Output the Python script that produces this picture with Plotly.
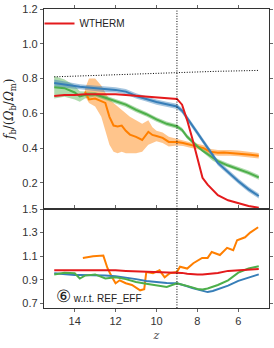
import plotly.graph_objects as go

# ---------------- data ----------------
z_top = [15.0, 14.5, 14.0, 13.75, 13.5, 13.0, 12.5, 12.0, 11.5, 11.0, 10.5, 10.0, 9.5, 9.0,
         8.75, 8.5, 8.25, 8.0, 7.75, 7.5, 7.25, 7.0, 6.5, 6.0, 5.5, 5.0]

fb_red = [0.700, 0.705, 0.705, 0.708, 0.710, 0.710, 0.710, 0.710, 0.705, 0.700, 0.695, 0.690, 0.687, 0.683,
          0.650, 0.560, 0.455, 0.345, 0.230, 0.190, 0.160, 0.130, 0.100, 0.082, 0.068, 0.057]
fb_blue = [0.775, 0.765, 0.757, 0.753, 0.750, 0.745, 0.737, 0.735, 0.725, 0.700, 0.683, 0.665, 0.652, 0.640,
           0.615, 0.575, 0.530, 0.488, 0.445, 0.405, 0.360, 0.315, 0.260, 0.210, 0.163, 0.125]
fb_green = [0.750, 0.745, 0.720, 0.697, 0.705, 0.710, 0.690, 0.670, 0.650, 0.620, 0.595, 0.565, 0.540, 0.525,
            0.505, 0.465, 0.435, 0.410, 0.385, 0.365, 0.340, 0.325, 0.300, 0.280, 0.258, 0.232]
err_green = [0.065, 0.050, 0.040, 0.030, 0.020, 0.013, 0.013, 0.013, 0.013, 0.013, 0.013, 0.013, 0.013, 0.013,
             0.013, 0.013, 0.013, 0.013, 0.013, 0.013, 0.013, 0.013, 0.013, 0.013, 0.013, 0.013]
err_blue = [0.020, 0.018, 0.016, 0.015, 0.015, 0.015, 0.015, 0.015, 0.015, 0.015, 0.015, 0.015, 0.015, 0.015,
            0.015, 0.015, 0.015, 0.015, 0.015, 0.015, 0.015, 0.015, 0.015, 0.015, 0.015, 0.015]
fb_dotted = [0.810, 0.812, 0.815, 0.817, 0.818, 0.820, 0.823, 0.825, 0.828, 0.830, 0.832, 0.834, 0.836, 0.837,
             0.838, 0.838, 0.839, 0.840, 0.840, 0.841, 0.842, 0.842, 0.843, 0.844, 0.846, 0.847]

z_orange = [13.5, 13.3, 13.0, 12.7, 12.5, 12.3, 12.1, 11.9, 11.7, 11.5, 11.3, 11.0, 10.7, 10.4, 10.2, 10.0,
            9.7, 9.4, 9.0, 8.7, 8.4, 8.2, 8.0, 7.7, 7.4, 7.0, 6.7, 6.4, 6.0, 5.7, 5.4, 5.0]
fb_orange = [0.725, 0.680, 0.685, 0.670, 0.660, 0.580, 0.530, 0.525, 0.530, 0.500, 0.478, 0.465, 0.447, 0.494,
             0.476, 0.470, 0.459, 0.436, 0.436, 0.430, 0.420, 0.413, 0.410, 0.400, 0.380, 0.373, 0.375, 0.373,
             0.370, 0.367, 0.362, 0.356]
orange_hi = [0.740, 0.800, 0.800, 0.760, 0.720, 0.680, 0.660, 0.640, 0.620, 0.600, 0.580, 0.560, 0.540, 0.560,
             0.520, 0.500, 0.490, 0.465, 0.455, 0.447, 0.436, 0.429, 0.426, 0.416, 0.396, 0.389, 0.391, 0.389,
             0.386, 0.383, 0.378, 0.372]
orange_lo = [0.700, 0.660, 0.640, 0.580, 0.500, 0.420, 0.380, 0.370, 0.380, 0.370, 0.370, 0.370, 0.380, 0.420,
             0.430, 0.440, 0.430, 0.410, 0.415, 0.413, 0.404, 0.397, 0.394, 0.384, 0.364, 0.357, 0.359, 0.357,
             0.354, 0.351, 0.346, 0.340]

ratio_red = [0.980, 0.980, 0.980, 0.980, 0.980, 0.982, 0.982, 0.980, 0.975, 0.972, 0.970, 0.970, 0.968, 0.965,
             0.958, 0.950, 0.946, 0.945, 0.945, 0.948, 0.952, 0.958, 0.975, 0.980, 0.985, 0.990]
ratio_blue = [0.955, 0.945, 0.940, 0.940, 0.940, 0.935, 0.935, 0.930, 0.920, 0.905, 0.890, 0.880, 0.872, 0.870,
              0.860, 0.845, 0.830, 0.820, 0.805, 0.795, 0.805, 0.820, 0.850, 0.890, 0.920, 0.945]
ratio_green = [0.945, 0.960, 0.955, 0.910, 0.935, 0.945, 0.910, 0.920, 0.905, 0.880, 0.865, 0.850, 0.838, 0.870,
               0.860, 0.850, 0.835, 0.822, 0.818, 0.825, 0.840, 0.855, 0.895, 0.960, 0.995, 1.015]

z_orange_r = [13.6, 13.1, 12.6, 12.4, 12.2, 12.0, 11.8, 11.5, 11.2, 10.8, 10.6, 10.5, 10.17, 9.85, 9.6, 9.35,
              9.0, 8.85, 8.5, 8.2, 7.77, 7.5, 7.3, 6.9, 6.55, 6.25, 6.06, 5.67, 5.42, 5.03]
ratio_orange = [1.085, 1.100, 1.105, 1.000, 0.930, 0.870, 0.895, 0.870, 0.855, 0.810, 0.820, 0.965, 0.955, 0.980,
                0.920, 0.955, 0.965, 1.010, 0.995, 1.040, 1.085, 1.085, 1.135, 1.110, 1.170, 1.150, 1.235, 1.260,
                1.300, 1.345]

z_mark = 9.0
top_ticks = [0.2, 0.4, 0.6, 0.8, 1.0, 1.2]
bot_ticks = [0.7, 0.9, 1.1, 1.3, 1.5]
x_ticks = [14, 12, 10, 8, 6]

RED = "#e41a1c"
BLUE = "#377eb8"
GREEN = "#4daf4a"
ORANGE = "#ff7f00"

fig = go.Figure()

def band(x, lo, hi, color, xa, ya):
    fig.add_trace(go.Scatter(x=list(x) + list(x)[::-1], y=list(hi) + list(lo)[::-1],
                             fill="toself", fillcolor=color, line=dict(width=0),
                             hoverinfo="skip", showlegend=False, xaxis=xa, yaxis=ya))

# top bands
band(z_orange, orange_lo, orange_hi, "rgba(255,127,0,0.45)", "x", "y")
band(z_top, [a - e for a, e in zip(fb_green, err_green)], [a + e for a, e in zip(fb_green, err_green)],
     "rgba(77,175,74,0.45)", "x", "y")
band(z_top, [a - e for a, e in zip(fb_blue, err_blue)], [a + e for a, e in zip(fb_blue, err_blue)],
     "rgba(55,126,184,0.45)", "x", "y")

DOT = "1px,1.6px"
# top lines
fig.add_trace(go.Scatter(x=z_top, y=fb_dotted, mode="lines", line=dict(color="black", width=1, dash=DOT),
                         showlegend=False, xaxis="x", yaxis="y"))
fig.add_trace(go.Scatter(x=z_orange, y=fb_orange, mode="lines", line=dict(color=ORANGE, width=2),
                         showlegend=False, xaxis="x", yaxis="y"))
fig.add_trace(go.Scatter(x=z_top, y=fb_green, mode="lines", line=dict(color=GREEN, width=2),
                         showlegend=False, xaxis="x", yaxis="y"))
fig.add_trace(go.Scatter(x=z_top, y=fb_blue, mode="lines", line=dict(color=BLUE, width=2),
                         showlegend=False, xaxis="x", yaxis="y"))
fig.add_trace(go.Scatter(x=z_top, y=fb_red, mode="lines", line=dict(color=RED, width=2),
                         name="WTHERM", showlegend=True, xaxis="x", yaxis="y"))

# bottom lines
fig.add_trace(go.Scatter(x=z_orange_r, y=ratio_orange, mode="lines", line=dict(color=ORANGE, width=2),
                         showlegend=False, xaxis="x2", yaxis="y2"))
fig.add_trace(go.Scatter(x=z_top, y=ratio_blue, mode="lines", line=dict(color=BLUE, width=2),
                         showlegend=False, xaxis="x2", yaxis="y2"))
fig.add_trace(go.Scatter(x=z_top, y=ratio_green, mode="lines", line=dict(color=GREEN, width=2),
                         showlegend=False, xaxis="x2", yaxis="y2"))
fig.add_trace(go.Scatter(x=z_top, y=ratio_red, mode="lines", line=dict(color=RED, width=2),
                         showlegend=False, xaxis="x2", yaxis="y2"))

# vertical dotted marker line
fig.add_shape(type="line", x0=z_mark, x1=z_mark, xref="x", y0=0, y1=1, yref="paper",
              line=dict(color="black", width=1, dash=DOT))

AX = "#333333"
TICKFONT = dict(family="Liberation Sans, Arial, sans-serif", size=11, color="#333333")
axis_common = dict(showline=True, linecolor=AX, linewidth=1.3, ticks="outside", ticklen=3,
                   tickcolor="#666666", tickwidth=1, showgrid=False, zeroline=False, tickfont=TICKFONT,
                   automargin=False)

dom_split = 0.331
fig.update_layout(
    width=274, height=348,
    margin=dict(l=44, r=5, t=9, b=40, autoexpand=False),
    paper_bgcolor="white", plot_bgcolor="white",
    xaxis=dict(axis_common, domain=[0, 1], anchor="y", range=[15.5, 4.5], tickvals=x_ticks,
               side="top", showticklabels=False, mirror=True),
    yaxis=dict(axis_common, domain=[dom_split, 1], anchor="x", range=[0.05, 1.2], tickvals=top_ticks,
               ticktext=[f"{v:.1f}" for v in top_ticks], mirror="ticks"),
    xaxis2=dict(axis_common, domain=[0, 1], anchor="y2", range=[15.5, 4.5], tickvals=x_ticks,
                mirror="ticks",
                title=dict(text="<i>z</i>", font=dict(family="DejaVu Serif, serif", size=11, color="#444444"),
                           standoff=4)),
    yaxis2=dict(axis_common, domain=[0, dom_split], anchor="x2", range=[0.66, 1.5], tickvals=bot_ticks,
                ticktext=[f"{v:.1f}" for v in bot_ticks], mirror="ticks"),
    legend=dict(x=-0.02, y=1.0, xanchor="left", yanchor="top", bgcolor="rgba(0,0,0,0)",
                font=dict(family="Liberation Sans, Arial, sans-serif", size=10, color="#222222"),
                itemwidth=30, tracegroupgap=0),
    showlegend=True,
)

# y-axis label of the top panel
fig.add_annotation(x=-0.151, y=dom_split + (1 - dom_split) / 2, xref="paper", yref="paper",
                   xanchor="center", yanchor="middle", textangle=-90, showarrow=False,
                   text="<i>f</i><sub>b</sub>/(<i>Ω</i><sub>b</sub>/<i>Ω</i><sub>m</sub>)",
                   font=dict(family="DejaVu Serif, serif", size=12, color="#222222"))

fig.add_annotation(x=0.045, y=0.037, xref="paper", yref="paper", xanchor="left", yanchor="middle",
                   text="<span style='font-size:17px'>⑥</span> w.r.t. REF_EFF", showarrow=False,
                   font=dict(family="Liberation Sans, Arial, sans-serif", size=10, color="#222222"))

fig.write_html("out.html", config={"displayModeBar": False},
               post_script="document.body.style.margin='0px';")
